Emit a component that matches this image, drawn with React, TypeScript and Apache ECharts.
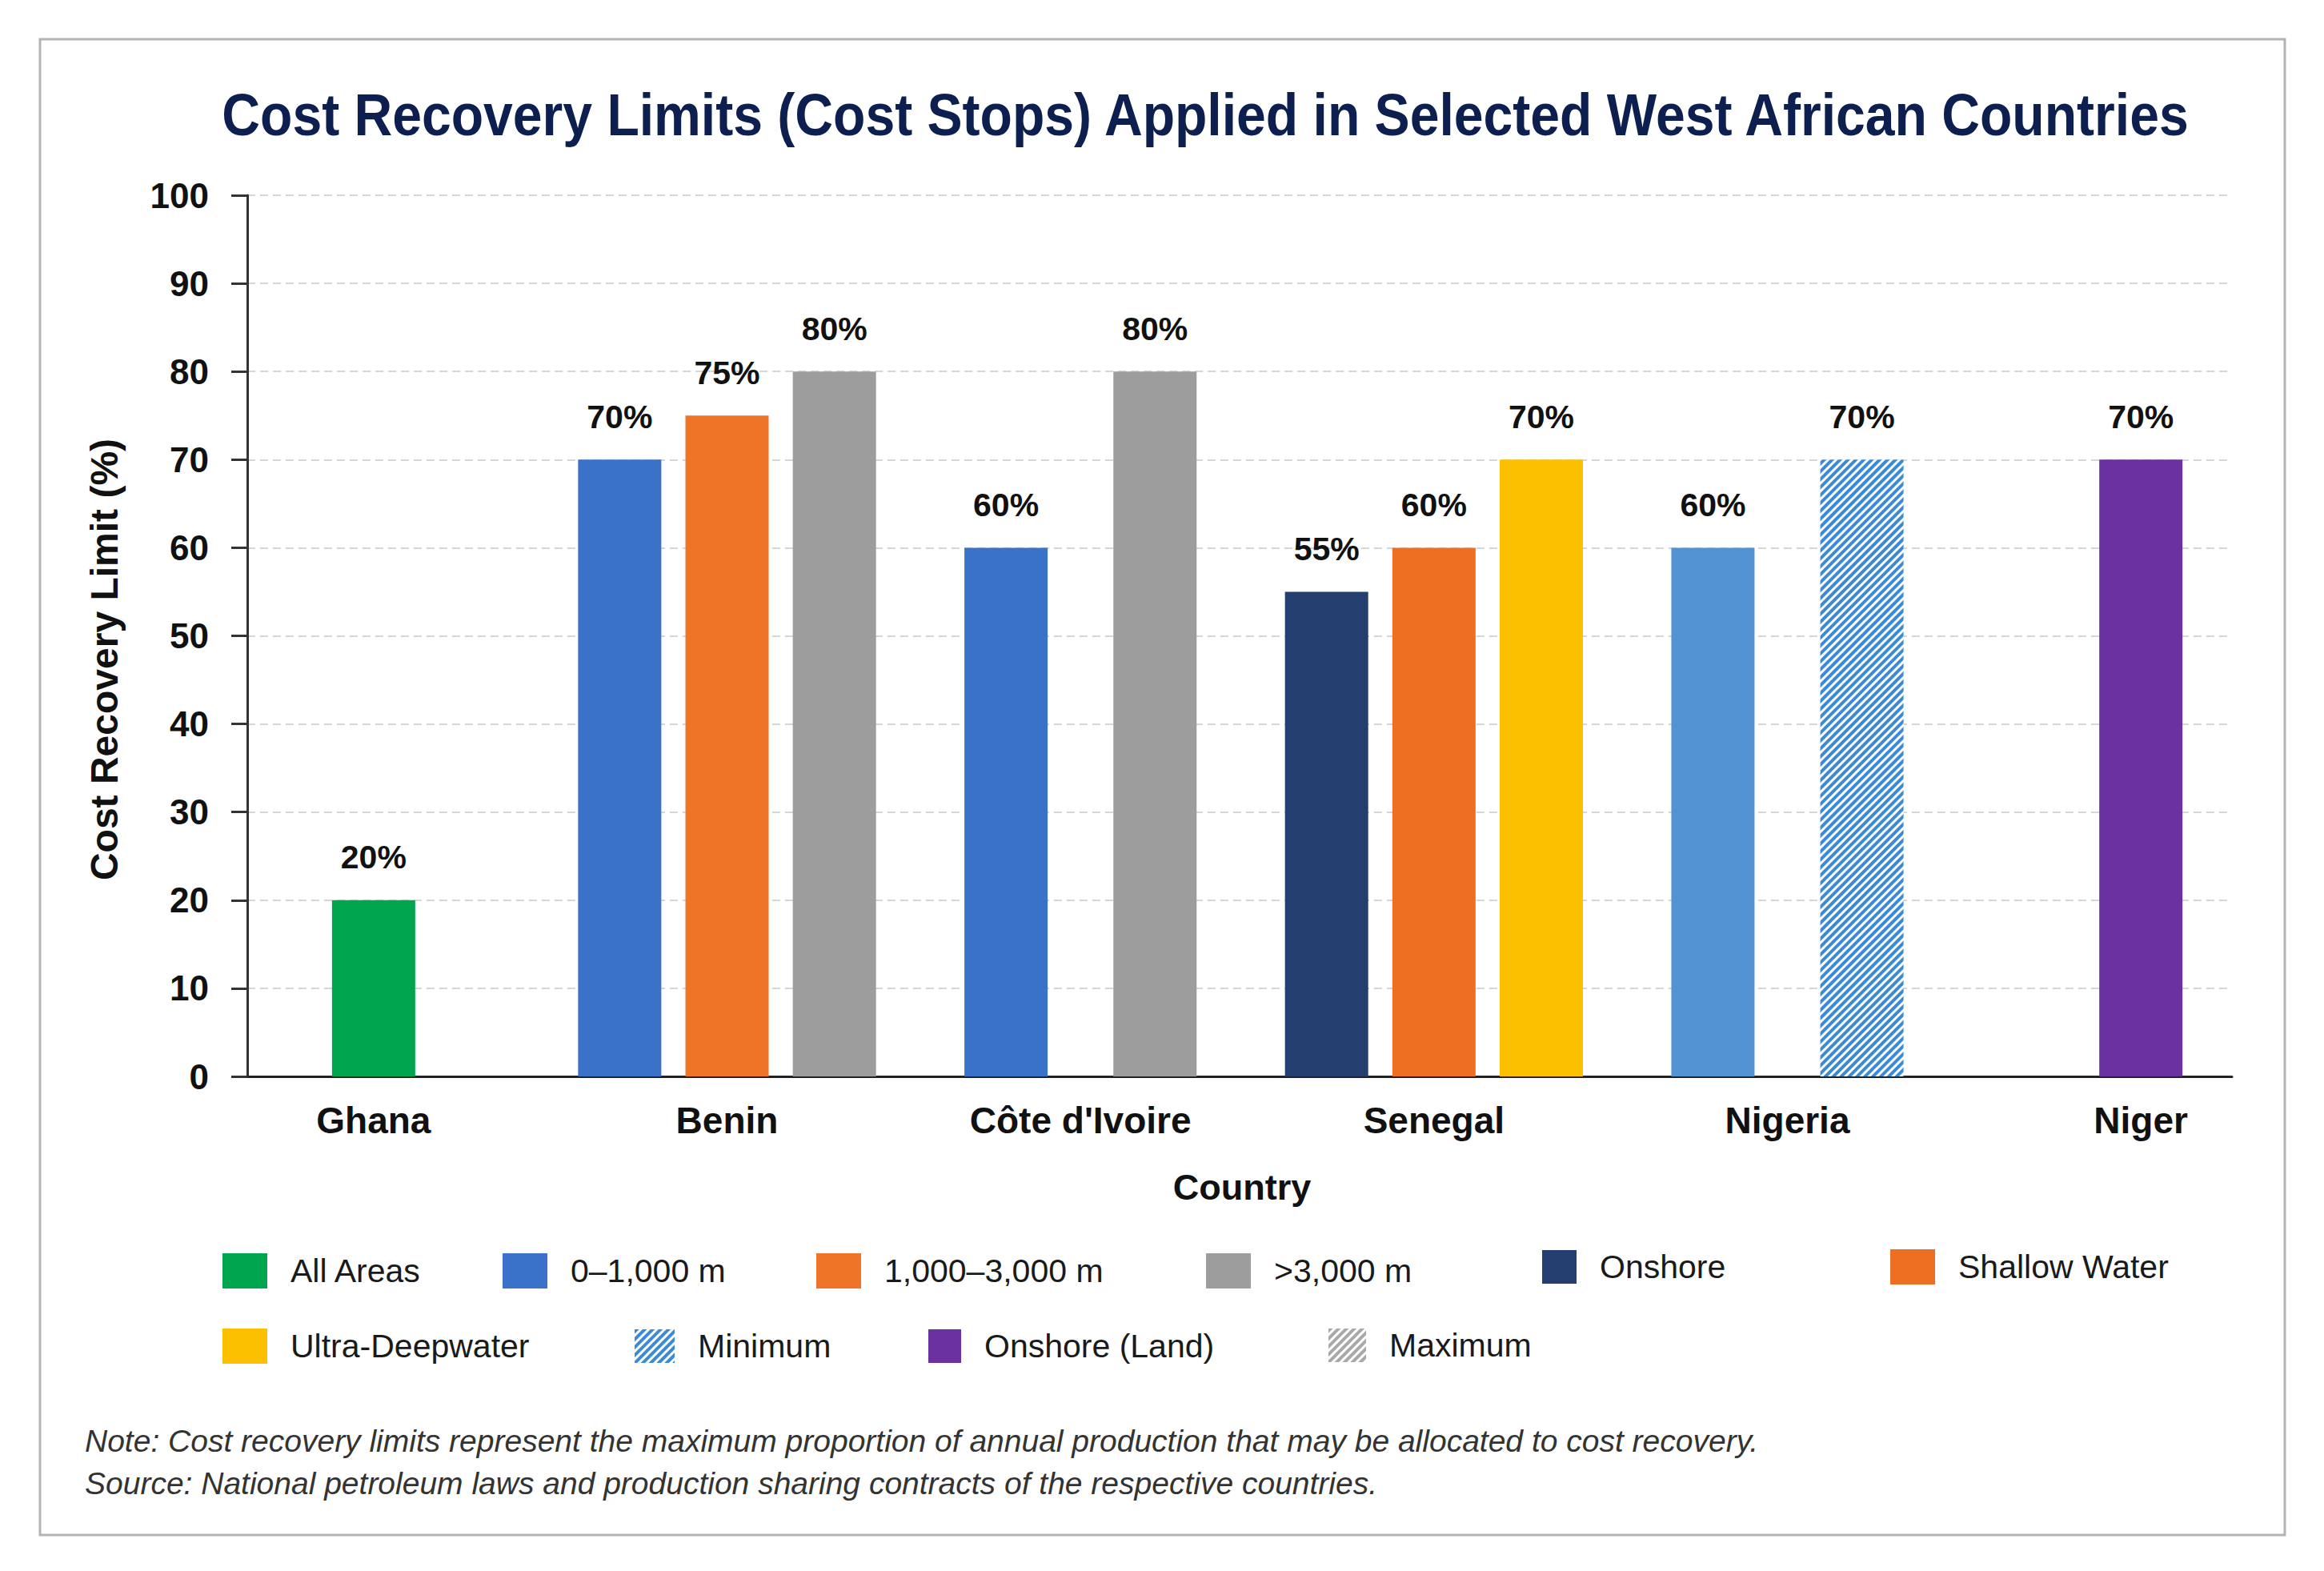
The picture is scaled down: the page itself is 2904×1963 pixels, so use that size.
import React, { useEffect, useRef } from "react";
import * as echarts from "echarts";

// ---------------- DATA ----------------
const countries = ["Ghana", "Benin", "Côte d'Ivoire", "Senegal", "Nigeria", "Niger"];

const allAreas = [20, null, null, null, null, null];
const depth0to1000 = [null, 70, 60, null, null, null];
const depth1000to3000 = [null, 75, null, null, null, null];
const depthOver3000 = [null, 80, 80, null, null, null];
const onshore = [null, null, null, 55, null, null];
const shallowWater = [null, null, null, 60, null, null];
const ultraDeepwater = [null, null, null, 70, null, null];
const nigeriaBase = [null, null, null, null, 60, null];
const minimum = [null, null, null, null, 70, null];
const onshoreLand = [null, null, null, null, null, 70];
const maximum = [null, null, null, null, null, null];

const titleText = "Cost Recovery Limits (Cost Stops) Applied in Selected West African Countries";
const yTitle = "Cost Recovery Limit (%)";
const xTitle = "Country";
const noteText =
  "Note: Cost recovery limits represent the maximum proportion of annual production that may be allocated to cost recovery.";
const sourceText =
  "Source: National petroleum laws and production sharing contracts of the respective countries.";

// ---------------- STYLE ----------------
const FONT = '"Liberation Sans", Arial, Helvetica, sans-serif';

const hatch = (color: string) => ({
  symbol: "rect",
  symbolSize: 1,
  dashArrayX: [1, 0],
  dashArrayY: [4, 3],
  rotation: -Math.PI / 4,
  color,
  backgroundColor: "#ffffff",
});

const groups = [
  { name: "All Areas", values: allAreas, style: { color: "#00a54f" } },
  { name: "0–1,000 m", values: depth0to1000, style: { color: "#3a72c9" } },
  { name: "1,000–3,000 m", values: depth1000to3000, style: { color: "#ee7428" } },
  { name: ">3,000 m", values: depthOver3000, style: { color: "#9d9d9d" } },
  { name: "Onshore", values: onshore, style: { color: "#243f6f" } },
  { name: "Shallow Water", values: shallowWater, style: { color: "#ee6e22" } },
  { name: "Ultra-Deepwater", values: ultraDeepwater, style: { color: "#fdc000" } },
  { name: "Nigeria (0–1,000 m)", values: nigeriaBase, style: { color: "#5193d3" } },
  { name: "Minimum", values: minimum, style: { color: "#ffffff", decal: hatch("#3b8ad8") } },
  { name: "Onshore (Land)", values: onshoreLand, style: { color: "#6c31a0" } },
  { name: "Maximum", values: maximum, style: { color: "#ffffff", decal: hatch("#a8a8a8") } },
];

// legend layout (icon left, icon vertical centre, icon size)
const legendLayout = [
  { name: "All Areas", x: 278, cy: 1588, w: 56, h: 44 },
  { name: "0–1,000 m", x: 628, cy: 1588, w: 56, h: 44 },
  { name: "1,000–3,000 m", x: 1020, cy: 1588, w: 56, h: 44 },
  { name: ">3,000 m", x: 1507, cy: 1588, w: 56, h: 44 },
  { name: "Onshore", x: 1927, cy: 1583, w: 43, h: 42 },
  { name: "Shallow Water", x: 2362, cy: 1583, w: 56, h: 44 },
  { name: "Ultra-Deepwater", x: 278, cy: 1682, w: 56, h: 44 },
  { name: "Minimum", x: 793, cy: 1682, w: 50, h: 42 },
  { name: "Onshore (Land)", x: 1160, cy: 1682, w: 41, h: 42 },
  { name: "Maximum", x: 1660, cy: 1681, w: 47, h: 42 },
];

const BAR_W = 104;
const barGapFor: Record<number, string> = { 1: "0%", 2: "79%", 3: "29%" };

function buildOption() {
  const series: any[] = [];
  const label = {
    show: true,
    position: "top",
    distance: 33,
    formatter: "{c}%",
    fontSize: 41,
    fontWeight: "bold",
    color: "#111111",
    fontFamily: FONT,
  };

  countries.forEach((_, i) => {
    const present = groups.filter((g) => g.values[i] != null);
    const n = present.length;
    present.forEach((g, k) => {
      series.push({
        type: "bar",
        name: g.name,
        xAxisIndex: n,
        yAxisIndex: 1,
        stack: `a${n}s${k}`,
        barWidth: BAR_W,
        barGap: barGapFor[n],
        data: countries.map((__, j) => (j === i ? g.values[i] : null)),
        itemStyle: g.style,
        label,
        emphasis: { disabled: true },
      });
    });
  });

  // legend-only series for groups without bars
  groups.forEach((g) => {
    if (g.values.every((v) => v == null)) {
      series.push({
        type: "bar",
        name: g.name,
        xAxisIndex: 0,
        yAxisIndex: 0,
        data: [],
        itemStyle: g.style,
      });
    }
  });

  const legends = legendLayout.map((l) => ({
    data: [l.name],
    left: l.x,
    top: l.cy - l.h / 2,
    itemWidth: l.w,
    itemHeight: l.h,
    icon: "rect",
    padding: 0,
    itemGap: 0,
    selectedMode: false,
    textStyle: {
      fontSize: 41,
      color: "#1a1a1a",
      fontFamily: FONT,
      padding: [0, 0, 0, 24],
    },
  }));

  const gridTop = 244;
  const gridH = 1101;

  return {
    animation: false,
    backgroundColor: "#ffffff",
    grid: [
      { left: 309, top: gridTop, width: 2480, height: gridH, containLabel: false },
      { left: 246, top: gridTop, width: 2650, height: gridH, containLabel: false },
    ],
    xAxis: [
      {
        gridIndex: 0,
        type: "category",
        data: countries,
        position: "bottom",
        axisLine: { show: true, lineStyle: { color: "#222222", width: 3 } },
        axisTick: { show: false },
        axisLabel: { show: false },
        splitLine: { show: false },
      },
      {
        gridIndex: 1,
        type: "category",
        data: countries,
        position: "bottom",
        axisLine: { show: false },
        axisTick: { show: false },
        axisLabel: {
          show: true,
          interval: 0,
          fontSize: 46,
          fontWeight: "bold",
          color: "#111111",
          fontFamily: FONT,
          margin: 32,
        },
        splitLine: { show: false },
      },
      { gridIndex: 1, type: "category", data: countries, position: "bottom", show: false },
      { gridIndex: 1, type: "category", data: countries, position: "bottom", show: false },
    ],
    yAxis: [
      {
        gridIndex: 0,
        type: "value",
        min: 0,
        max: 100,
        interval: 10,
        axisLine: { show: true, lineStyle: { color: "#333333", width: 3 } },
        axisTick: { show: true, length: 20, lineStyle: { color: "#333333", width: 3 } },
        axisLabel: {
          fontSize: 44,
          fontWeight: "bold",
          color: "#111111",
          fontFamily: FONT,
          margin: 48,
        },
        splitLine: { show: true, lineStyle: { color: "#d6d6d6", width: 2, type: [10, 6] } },
      },
      { gridIndex: 1, type: "value", min: 0, max: 100, interval: 10, show: false, splitLine: { show: false } },
    ],
    legend: legends,
    series,
    graphic: [
      {
        type: "rect",
        z: -10,
        shape: { x: 50, y: 49, width: 2805, height: 1869 },
        style: { fill: "none", stroke: "#b3b3b3", lineWidth: 3 },
      },
      {
        type: "text",
        x: 1506,
        y: 143,
        scaleX: 0.893,
        style: {
          text: titleText,
          fontSize: 74,
          fontWeight: "bold",
          fontFamily: FONT,
          fill: "#0d1f4f",
          textAlign: "center",
          textVerticalAlign: "middle",
          align: "center",
          verticalAlign: "middle",
        },
      },
      {
        type: "text",
        x: 130,
        y: 824,
        rotation: Math.PI / 2,
        style: {
          text: yTitle,
          fontSize: 48,
          fontWeight: "bold",
          fontFamily: FONT,
          fill: "#111111",
          textAlign: "center",
          textVerticalAlign: "middle",
          align: "center",
          verticalAlign: "middle",
        },
      },
      {
        type: "text",
        x: 1552,
        y: 1483,
        style: {
          text: xTitle,
          fontSize: 45,
          fontWeight: "bold",
          fontFamily: FONT,
          fill: "#111111",
          textAlign: "center",
          textVerticalAlign: "middle",
          align: "center",
          verticalAlign: "middle",
        },
      },
      {
        type: "text",
        x: 106,
        y: 1800,
        style: {
          text: noteText,
          fontSize: 39,
          fontStyle: "italic",
          fontFamily: FONT,
          fill: "#333333",
          textVerticalAlign: "middle",
          verticalAlign: "middle",
        },
      },
      {
        type: "text",
        x: 106,
        y: 1853,
        style: {
          text: sourceText,
          fontSize: 39,
          fontStyle: "italic",
          fontFamily: FONT,
          fill: "#333333",
          textVerticalAlign: "middle",
          verticalAlign: "middle",
        },
      },
    ],
  };
}

export default function App() {
  const ref = useRef<HTMLDivElement>(null);
  useEffect(() => {
    document.body.style.margin = "0";
    if (!ref.current) return;
    const chart = echarts.init(ref.current, undefined, { renderer: "svg" });
    chart.setOption(buildOption() as any);
    return () => chart.dispose();
  }, []);
  return <div ref={ref} style={{ width: 2904, height: 1963, background: "#ffffff" }} />;
}
